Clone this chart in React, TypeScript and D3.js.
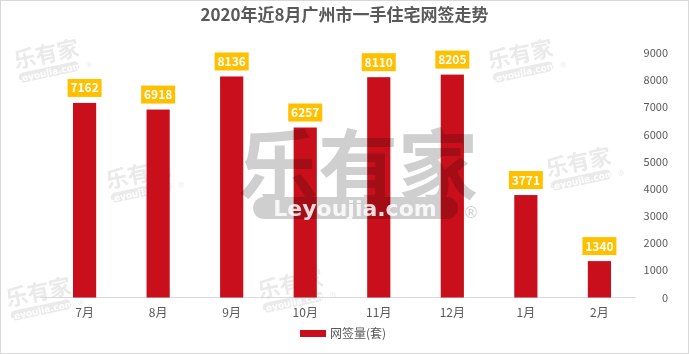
import React from "react";
import * as d3 from "d3";

const months = ["7月", "8月", "9月", "10月", "11月", "12月", "1月", "2月"];
const sales = [7162, 6918, 8136, 6257, 8110, 8205, 3771, 1340];
const yTicks = [0, 1000, 2000, 3000, 4000, 5000, 6000, 7000, 8000, 9000];
const title = "2020年近8月广州市一手住宅网签走势";
const legendLabel = "网签量(套)";

// small tiled watermarks (approximate)
const marks = [
  [48, 62],
  [522, 62],
  [140, 182],
  [580, 170],
  [292, 292],
  [40, 300],
];

const W = 689;
const H = 354;
const font = "'Noto Sans CJK SC', 'Noto Sans', sans-serif";

const SmallMark = ({ x, y }: { x: number; y: number }) => (
  <g transform={`translate(${x},${y}) rotate(-12)`} opacity={0.45} style={{ mixBlendMode: "multiply" }}>
    <text x={0} y={0} textAnchor="middle" fontSize={22} fontWeight="bold" fill="#d0d0d0" fontFamily={font}>
      乐有家
    </text>
    <rect x={-32} y={5} width={62} height={10} rx={5} fill="#d0d0d0" />
    <text x={-1} y={13.5} textAnchor="middle" fontSize={9} fontWeight="bold" fill="#fff" fontFamily="DejaVu Sans, sans-serif">
      Leyoujia.com
    </text>
    <text x={36} y={14} fontSize={8} fill="#d0d0d0" fontFamily="DejaVu Sans, sans-serif">®</text>
  </g>
);

export default function App() {
  const x = d3.scaleBand<string>().domain(months).range([48, 636]).paddingInner(0.685).paddingOuter(0.34);
  const y = d3.scaleLinear().domain([0, 9000]).range([297.5, 53]);
  const bw = x.bandwidth();

  return (
    <svg width={W} height={H} style={{ position: "absolute", left: 0, top: 0, display: "block" }}>
      <rect x={0.5} y={0.5} width={W - 1} height={H - 1} fill="#fff" stroke="#d9d9d9" />
      <text x={W / 2} y={21} textAnchor="middle" fontSize={17} fontWeight="bold" fill="#595959" fontFamily={font}>
        {title}
      </text>

      {marks.map(([mx, my], i) => (
        <SmallMark key={i} x={mx} y={my} />
      ))}

      {/* baseline */}
      <line x1={40} x2={636} y1={y(0)} y2={y(0)} stroke="#d9d9d9" />

      {/* right axis labels */}
      {yTicks.map((t) => (
        <text key={t} x={668} y={y(t) + 4} textAnchor="end" fontSize={11} fill="#595959" fontFamily={font}>
          {t}
        </text>
      ))}

      {/* bars */}
      {sales.map((v, i) => (
        <rect key={i} x={x(months[i])!} y={y(v)} width={bw} height={y(0) - y(v)} fill="#C80F1B" />
      ))}

      {/* big watermark */}
      <g style={{ mixBlendMode: "multiply" }}>
        <text x={358} y={196} textAnchor="middle" fontSize={80} fontWeight="bold" fill="#cfcfcf" fontFamily={font}>
          乐有家
        </text>
        <path
          d="M264,197 H447 A11,11 0 0 1 447,219 H264 A11,11 0 0 1 264,197 Z"
          fill="#cfcfcf"
        />
      </g>
      <text x={355} y={216} textAnchor="middle" fontSize={22} fontWeight="bold" fill="#fff" fontFamily="DejaVu Sans, sans-serif" opacity={0.85}>
        Leyoujia.com
      </text>
      <text x={463} y={218} fontSize={16} fill="#d0d0d0" fontFamily="DejaVu Sans, sans-serif">®</text>

      {/* value labels */}
      {sales.map((v, i) => {
        const cx = x(months[i])! + bw / 2;
        const top = y(v) - 6;
        return (
          <g key={i}>
            <rect x={cx - 17} y={top - 18} width={34} height={18} fill="#FFC000" />
            <text x={cx} y={top - 4.5} textAnchor="middle" fontSize={12} fontWeight="bold" fill="#fff" fontFamily={font}>
              {v}
            </text>
          </g>
        );
      })}

      {/* x labels */}
      {months.map((m) => (
        <text key={m} x={x(m)! + bw / 2} y={317} textAnchor="middle" fontSize={12} fill="#595959" fontFamily={font}>
          {m}
        </text>
      ))}

      {/* legend */}
      <rect x={300} y={330} width={26} height={7} fill="#C80F1B" />
      <text x={330} y={338} fontSize={12} fill="#595959" fontFamily={font}>
        {legendLabel}
      </text>
    </svg>
  );
}
